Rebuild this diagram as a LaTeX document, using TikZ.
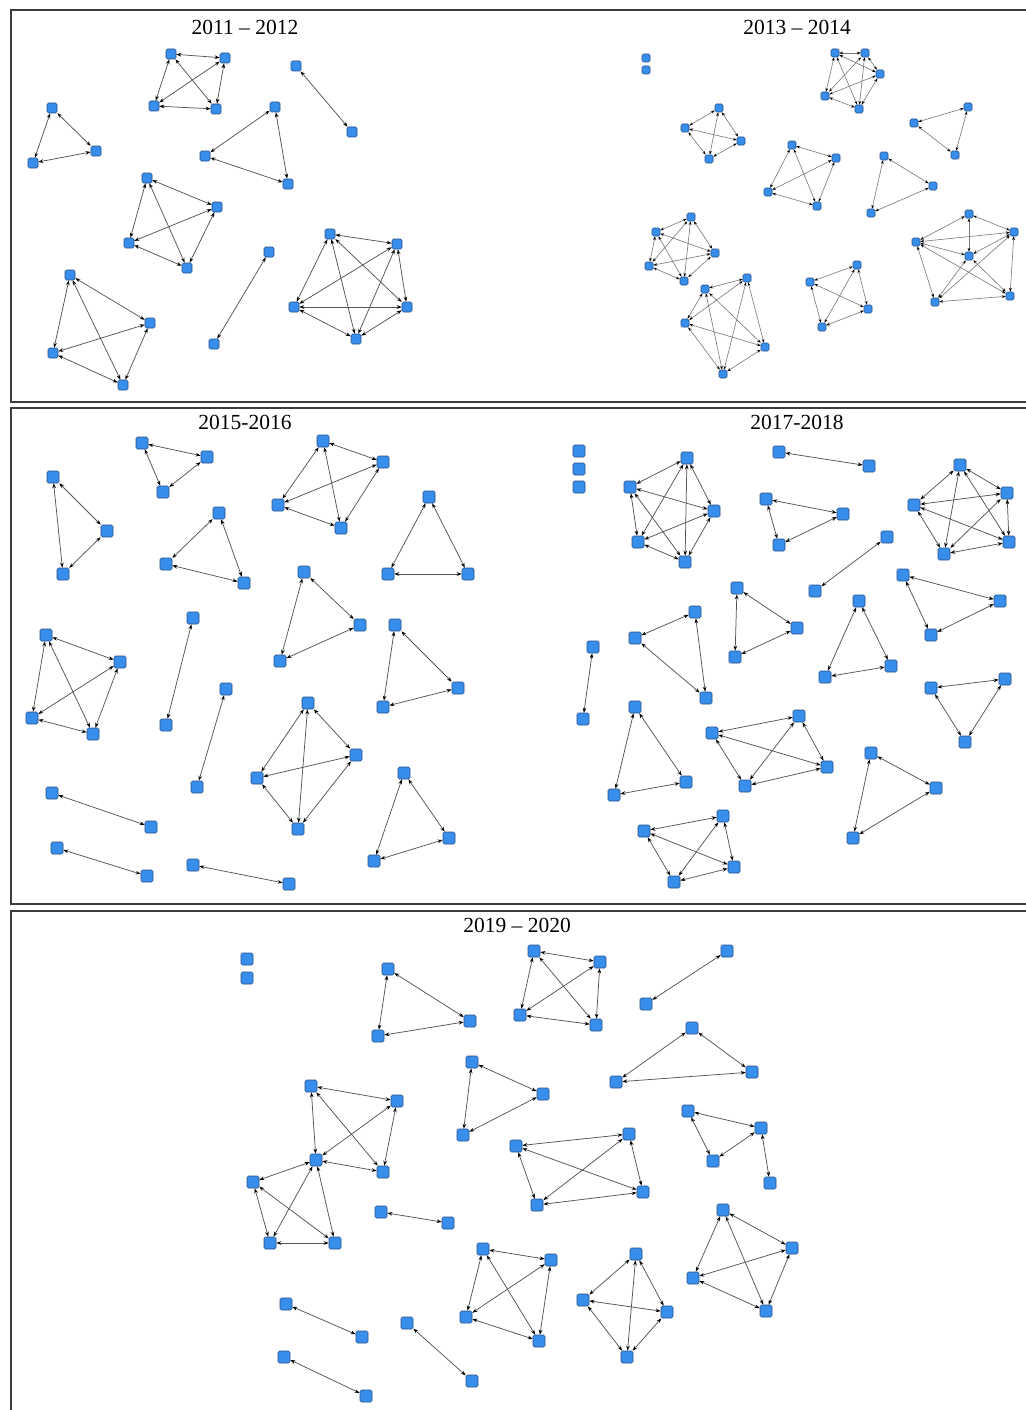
\documentclass[tikz,border=0pt]{standalone}
\usepackage{fontspec}
\setmainfont{Liberation Serif}
\usetikzlibrary{arrows.meta}
\definecolor{NodeBlue}{RGB}{55,143,235}
\definecolor{NodeEdge}{RGB}{38,78,138}
\definecolor{LinkGray}{RGB}{85,85,85}
\definecolor{FrameGray}{RGB}{60,60,60}
\tikzset{
  vtx/.style={rectangle,rounded corners=1.5pt,draw=NodeEdge,fill=NodeBlue,line width=0.6pt,inner sep=0pt,minimum size=#1},
  vtx/.default=12pt,
  link/.style={{Stealth[length=5pt,width=3.6pt,black]}-{Stealth[length=5pt,width=3.6pt,black]},draw=LinkGray,line width=0.75pt},
  linksmall/.style={{Stealth[length=3.8pt,width=2.8pt,black]}-{Stealth[length=3.8pt,width=2.8pt,black]},draw=LinkGray!80,line width=0.6pt},
  frame/.style={draw=FrameGray,line width=1.2pt},
  title/.style={font=\fontsize{21.5}{24}\selectfont,text=black}
}
% all pairs among #2-1 ... #2-#3
\newcommand{\drawclique}[3][link]{%
  \foreach \i in {1,...,#3}{\foreach \j in {1,...,#3}{\ifnum\i<\j \draw[#1] (#2\i) -- (#2\j);\fi}}}

\begin{document}
\begin{tikzpicture}[x=1pt,y=-1pt]
  \useasboundingbox (0,0) rectangle (1025,1410);
  \fill[white] (0,0) rectangle (1025,1410);
  % panel frames
  \draw[frame] (11,10) rectangle (1035,402);
  \draw[frame] (11,408) rectangle (1035,904);
  \draw[frame] (11,911) rectangle (1035,1420);

  % ---------- 2011 - 2012 ----------
  \node[title] (tA) at (245,27) {2011 -- 2012};
  \foreach \n/\p in {1/{171,54},2/{225,58},3/{154,106},4/{216,109}} \node[vtx=10pt] (Aa\n) at (\p) {};
  \foreach \n/\p in {1/{52,108},2/{96,151},3/{33,163}} \node[vtx=10pt] (Ab\n) at (\p) {};
  \foreach \n/\p in {1/{296,66},2/{352,132}} \node[vtx=10pt] (Ac\n) at (\p) {};
  \foreach \n/\p in {1/{275,107},2/{205,156},3/{288,184}} \node[vtx=10pt] (Ad\n) at (\p) {};
  \foreach \n/\p in {1/{147,178},2/{217,207},3/{129,243},4/{187,268}} \node[vtx=10pt] (Ae\n) at (\p) {};
  \foreach \n/\p in {1/{70,275},2/{150,323},3/{53,353},4/{123,385}} \node[vtx=10pt] (Af\n) at (\p) {};
  \foreach \n/\p in {1/{269,252},2/{214,344}} \node[vtx=10pt] (Ag\n) at (\p) {};
  \foreach \n/\p in {1/{330,234},2/{397,244},3/{294,307},4/{407,307},5/{356,339}} \node[vtx=10pt] (Ah\n) at (\p) {};
  \drawclique{Aa}{4} \drawclique{Ab}{3} \drawclique{Ac}{2} \drawclique{Ad}{3}
  \drawclique{Ae}{4} \drawclique{Af}{4} \drawclique{Ag}{2} \drawclique{Ah}{5}

  % ---------- 2013 - 2014 ----------
  \node[title] (tB) at (797,27) {2013 -- 2014};
  \foreach \n/\p in {1/{646,58},2/{646,70}} \node[vtx=8pt] (Ba\n) at (\p) {};
  \foreach \n/\p in {1/{835,53},2/{865,53},3/{880,74},4/{825,96},5/{859,109}} \node[vtx=8pt] (Bb\n) at (\p) {};
  \foreach \n/\p in {1/{719,108},2/{685,128},3/{741,141},4/{709,159}} \node[vtx=8pt] (Bc\n) at (\p) {};
  \foreach \n/\p in {1/{968,107},2/{914,123},3/{955,155}} \node[vtx=8pt] (Bd\n) at (\p) {};
  \foreach \n/\p in {1/{792,145},2/{836,158},3/{768,192},4/{817,206}} \node[vtx=8pt] (Be\n) at (\p) {};
  \foreach \n/\p in {1/{884,156},2/{933,186},3/{871,213}} \node[vtx=8pt] (Bf\n) at (\p) {};
  \foreach \n/\p in {1/{691,217},2/{656,232},3/{715,253},4/{649,266},5/{684,281}} \node[vtx=8pt] (Bg\n) at (\p) {};
  \foreach \n/\p in {1/{747,278},2/{705,289},3/{685,323},4/{765,347},5/{723,374}} \node[vtx=8pt] (Bh\n) at (\p) {};
  \foreach \n/\p in {1/{857,265},2/{810,282},3/{868,309},4/{822,327}} \node[vtx=8pt] (Bi\n) at (\p) {};
  \foreach \n/\p in {1/{916,242},2/{1014,232},3/{969,256},4/{935,302},5/{1010,296},6/{969,214}} \node[vtx=8pt] (Bj\n) at (\p) {};
  \drawclique[linksmall]{Bb}{5} \drawclique[linksmall]{Bc}{4} \drawclique[linksmall]{Bd}{3}
  \drawclique[linksmall]{Be}{4} \drawclique[linksmall]{Bf}{3} \drawclique[linksmall]{Bg}{5}
  \drawclique[linksmall]{Bh}{5} \drawclique[linksmall]{Bi}{4} \drawclique[linksmall]{Bj}{5}
  \foreach \v in {1,2,3} \draw[linksmall] (Bj6) -- (Bj\v);

  % ---------- 2015 - 2016 ----------
  \node[title] (tC) at (245,422) {2015-2016};
  \foreach \n/\p in {1/{142,443},2/{207,457},3/{163,492}} \node[vtx] (Ca\n) at (\p) {};
  \foreach \n/\p in {1/{53,477},2/{107,531},3/{63,574}} \node[vtx] (Cb\n) at (\p) {};
  \foreach \n/\p in {1/{323,441},2/{383,462},3/{278,505},4/{341,528}} \node[vtx] (Cc\n) at (\p) {};
  \foreach \n/\p in {1/{219,513},2/{166,564},3/{244,583}} \node[vtx] (Cd\n) at (\p) {};
  \foreach \n/\p in {1/{429,497},2/{388,574},3/{468,574}} \node[vtx] (Ce\n) at (\p) {};
  \foreach \n/\p in {1/{304,572},2/{360,625},3/{280,661}} \node[vtx] (Cf\n) at (\p) {};
  \foreach \n/\p in {1/{193,618},2/{166,725}} \node[vtx] (Cg\n) at (\p) {};
  \foreach \n/\p in {1/{395,625},2/{458,688},3/{383,707}} \node[vtx] (Ch\n) at (\p) {};
  \foreach \n/\p in {1/{46,635},2/{120,662},3/{32,718},4/{93,734}} \node[vtx] (Ci\n) at (\p) {};
  \foreach \n/\p in {1/{226,689},2/{197,787}} \node[vtx] (Cj\n) at (\p) {};
  \foreach \n/\p in {1/{308,703},2/{356,755},3/{257,778},4/{298,829}} \node[vtx] (Ck\n) at (\p) {};
  \foreach \n/\p in {1/{404,773},2/{449,838},3/{374,861}} \node[vtx] (Cl\n) at (\p) {};
  \foreach \n/\p in {1/{52,793},2/{151,827}} \node[vtx] (Cm\n) at (\p) {};
  \foreach \n/\p in {1/{57,848},2/{147,876}} \node[vtx] (Cn\n) at (\p) {};
  \foreach \n/\p in {1/{193,865},2/{289,884}} \node[vtx] (Co\n) at (\p) {};
  \drawclique{Ca}{3} \drawclique{Cb}{3} \drawclique{Cc}{4} \drawclique{Cd}{3} \drawclique{Ce}{3}
  \drawclique{Cf}{3} \drawclique{Cg}{2} \drawclique{Ch}{3} \drawclique{Ci}{4} \drawclique{Cj}{2}
  \drawclique{Ck}{4} \drawclique{Cl}{3} \drawclique{Cm}{2} \drawclique{Cn}{2} \drawclique{Co}{2}

  % ---------- 2017 - 2018 ----------
  \node[title] (tD) at (797,422) {2017-2018};
  \foreach \n/\p in {1/{579,451},2/{579,469},3/{579,487}} \node[vtx] (Da\n) at (\p) {};
  \foreach \n/\p in {1/{687,458},2/{630,487},3/{714,511},4/{638,542},5/{685,562}} \node[vtx] (Db\n) at (\p) {};
  \foreach \n/\p in {1/{779,452},2/{869,466}} \node[vtx] (Dc\n) at (\p) {};
  \foreach \n/\p in {1/{766,499},2/{843,514},3/{779,545}} \node[vtx] (Dd\n) at (\p) {};
  \foreach \n/\p in {1/{960,465},2/{1007,493},3/{914,505},4/{1009,542},5/{944,554}} \node[vtx] (De\n) at (\p) {};
  \foreach \n/\p in {1/{887,537},2/{815,591}} \node[vtx] (Df\n) at (\p) {};
  \foreach \n/\p in {1/{903,575},2/{1000,601},3/{931,635}} \node[vtx] (Dg\n) at (\p) {};
  \foreach \n/\p in {1/{737,588},2/{797,628},3/{735,657}} \node[vtx] (Dh\n) at (\p) {};
  \foreach \n/\p in {1/{695,612},2/{635,638},3/{706,698}} \node[vtx] (Di\n) at (\p) {};
  \foreach \n/\p in {1/{859,601},2/{891,666},3/{825,677}} \node[vtx] (Dj\n) at (\p) {};
  \foreach \n/\p in {1/{593,647},2/{583,719}} \node[vtx] (Dk\n) at (\p) {};
  \foreach \n/\p in {1/{931,688},2/{1005,679},3/{965,742}} \node[vtx] (Dl\n) at (\p) {};
  \foreach \n/\p in {1/{635,707},2/{686,782},3/{614,795}} \node[vtx] (Dm\n) at (\p) {};
  \foreach \n/\p in {1/{712,733},2/{799,716},3/{827,767},4/{745,786}} \node[vtx] (Dn\n) at (\p) {};
  \foreach \n/\p in {1/{871,753},2/{936,788},3/{853,838}} \node[vtx] (Do\n) at (\p) {};
  \foreach \n/\p in {1/{644,831},2/{723,816},3/{734,867},4/{674,882}} \node[vtx] (Dp\n) at (\p) {};
  \drawclique{Db}{5} \drawclique{Dc}{2} \drawclique{Dd}{3} \drawclique{De}{5} \drawclique{Df}{2}
  \drawclique{Dg}{3} \drawclique{Dh}{3} \drawclique{Di}{3} \drawclique{Dj}{3} \drawclique{Dk}{2}
  \drawclique{Dl}{3} \drawclique{Dm}{3} \drawclique{Dn}{4} \drawclique{Do}{3} \drawclique{Dp}{4}

  % ---------- 2019 - 2020 ----------
  \node[title] (tE) at (517,925) {2019 -- 2020};
  \foreach \n/\p in {1/{247,959},2/{247,978}} \node[vtx] (Ea\n) at (\p) {};
  \foreach \n/\p in {1/{388,969},2/{470,1021},3/{378,1036}} \node[vtx] (Eb\n) at (\p) {};
  \foreach \n/\p in {1/{534,951},2/{600,962},3/{520,1015},4/{596,1025}} \node[vtx] (Ec\n) at (\p) {};
  \foreach \n/\p in {1/{472,1062},2/{543,1094},3/{463,1135}} \node[vtx] (Ed\n) at (\p) {};
  \foreach \n/\p in {1/{311,1086},2/{397,1101},3/{383,1172},4/{316,1160}} \node[vtx] (Ee\n) at (\p) {};
  \foreach \n/\p in {1/{253,1182},2/{270,1243},3/{335,1243}} \node[vtx] (Ef\n) at (\p) {};
  \foreach \n/\p in {1/{727,951},2/{646,1004}} \node[vtx] (Eg\n) at (\p) {};
  \foreach \n/\p in {1/{692,1028},2/{752,1072},3/{616,1082}} \node[vtx] (Eh\n) at (\p) {};
  \foreach \n/\p in {1/{688,1111},2/{761,1128},3/{713,1161},4/{770,1183}} \node[vtx] (Ei\n) at (\p) {};
  \foreach \n/\p in {1/{516,1146},2/{629,1134},3/{537,1205},4/{643,1192}} \node[vtx] (Ej\n) at (\p) {};
  \foreach \n/\p in {1/{381,1212},2/{448,1223}} \node[vtx] (Ek\n) at (\p) {};
  \foreach \n/\p in {1/{483,1249},2/{551,1260},3/{466,1317},4/{539,1341}} \node[vtx] (El\n) at (\p) {};
  \foreach \n/\p in {1/{636,1254},2/{583,1300},3/{667,1312},4/{627,1357}} \node[vtx] (Em\n) at (\p) {};
  \foreach \n/\p in {1/{723,1210},2/{792,1248},3/{693,1278},4/{766,1311}} \node[vtx] (En\n) at (\p) {};
  \foreach \n/\p in {1/{286,1304},2/{362,1337}} \node[vtx] (Eo\n) at (\p) {};
  \foreach \n/\p in {1/{284,1357},2/{366,1396}} \node[vtx] (Ep\n) at (\p) {};
  \foreach \n/\p in {1/{407,1323},2/{472,1381}} \node[vtx] (Eq\n) at (\p) {};
  \drawclique{Eb}{3} \drawclique{Ec}{4} \drawclique{Ed}{3} \drawclique{Ee}{4} \drawclique{Ef}{3}
  \foreach \v in {1,2,3} \draw[link] (Ee4) -- (Ef\v);
  \drawclique{Eg}{2} \drawclique{Eh}{3} \drawclique{Ei}{3} \draw[link] (Ei2) -- (Ei4);
  \drawclique{Ej}{4} \drawclique{Ek}{2} \drawclique{El}{4} \drawclique{Em}{4} \drawclique{En}{4}
  \drawclique{Eo}{2} \drawclique{Ep}{2} \drawclique{Eq}{2}
\end{tikzpicture}
\end{document}
